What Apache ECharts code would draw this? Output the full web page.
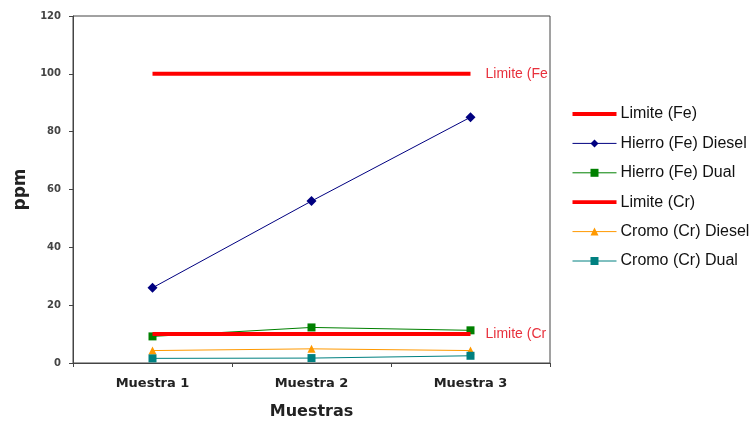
<!DOCTYPE html>
<html>
<head>
<meta charset="utf-8">
<style>
  html, body { margin: 0; padding: 0; background: #ffffff; }
  #chart { width: 753px; height: 425px; }
</style>
<script src="https://cdn.jsdelivr.net/npm/echarts@6/dist/echarts.min.js"></script>
</head>
<body>
<div id="chart"></div>
<script>
// Muestras analizadas
const categories = ['Muestra 1', 'Muestra 2', 'Muestra 3'];

// Concentraciones en ppm
const limiteFe = [100, 100, 100];
const hierroDiesel = [26, 56, 85];
const hierroDual = [9.2, 12.3, 11.3];
const limiteCr = [10, 10, 10];
const cromoDiesel = [4.3, 4.9, 4.3];
const cromoDual = [1.6, 1.7, 2.5];

// Marcas del eje vertical
const yTicks = [0, 20, 40, 60, 80, 100, 120];

const sans = 'Liberation Sans, Arial, sans-serif';
const axisFont = 'DejaVu Sans, Verdana, sans-serif';

function limitSeries(name, data) {
  return {
    name: name,
    type: 'line',
    data: data,
    symbol: 'none',
    lineStyle: { color: '#ff0000', width: 4 },
    itemStyle: { color: '#ff0000' },
    endLabel: {
      show: true,
      formatter: name,
      color: '#e8303c',
      fontFamily: sans,
      fontSize: 14,
      distance: 15,
      width: 66,
      overflow: 'truncate',
      ellipsis: ''
    },
    z: 3
  };
}

function dataSeries(name, data, color, symbol, size) {
  return {
    name: name,
    type: 'line',
    data: data,
    symbol: symbol,
    symbolSize: size,
    showAllSymbol: true,
    lineStyle: { color: color, width: 1 },
    itemStyle: { color: color },
    z: 2
  };
}

// Barra gruesa para las leyendas de los límites
const barIcon = 'path://M0,0H46V4H0Z';

const chart = echarts.init(document.getElementById('chart'), null, { renderer: 'canvas' });

chart.setOption({
  animation: false,
  backgroundColor: '#ffffff',
  textStyle: { fontFamily: sans },
  grid: {
    left: 73, top: 16, right: 203, bottom: 60,
    show: true, borderColor: '#444444', borderWidth: 1, backgroundColor: 'transparent'
  },
  legend: {
    orient: 'vertical',
    left: 567,
    top: 101,
    itemWidth: 44,
    itemHeight: 10,
    itemGap: 13.4,
    symbolKeepAspect: true,
    lineStyle: { width: 1 },
    textStyle: { fontFamily: sans, fontSize: 16, color: '#111111', padding: [0, 0, 0, -1] },
    data: [
      { name: 'Limite (Fe)', icon: barIcon },
      'Hierro (Fe) Diesel',
      'Hierro (Fe) Dual',
      { name: 'Limite (Cr)', icon: barIcon },
      'Cromo (Cr) Diesel',
      'Cromo (Cr) Dual'
    ]
  },
  xAxis: {
    type: 'category',
    data: categories,
    boundaryGap: true,
    name: 'Muestras',
    nameLocation: 'middle',
    nameGap: 41,
    nameTextStyle: { fontFamily: axisFont, fontSize: 16, fontWeight: 'bold', color: '#222222' },
    axisLine: { lineStyle: { color: '#444444', width: 1 } },
    axisTick: { show: true, length: 4, inside: false, lineStyle: { color: '#444444' } },
    axisLabel: { fontFamily: axisFont, fontSize: 13, fontWeight: 'bold', color: '#222222', margin: 14 },
    splitLine: { show: false }
  },
  yAxis: {
    type: 'value',
    min: yTicks[0],
    max: yTicks[yTicks.length - 1],
    interval: 20,
    name: 'ppm',
    nameLocation: 'middle',
    nameGap: 42,
    nameRotate: 90,
    nameTextStyle: { fontFamily: axisFont, fontSize: 17, fontWeight: 'bold', color: '#222222' },
    axisLine: { show: true, lineStyle: { color: '#444444', width: 1 } },
    axisTick: { show: true, length: 4, lineStyle: { color: '#444444' } },
    axisLabel: { fontFamily: axisFont, fontSize: 10, fontWeight: 'bold', color: '#444444', margin: 12 },
    splitLine: { show: false }
  },
  series: [
    limitSeries('Limite (Fe)', limiteFe),
    dataSeries('Hierro (Fe) Diesel', hierroDiesel, '#000080', 'diamond', 10),
    dataSeries('Hierro (Fe) Dual', hierroDual, '#008000', 'rect', 8),
    limitSeries('Limite (Cr)', limiteCr),
    dataSeries('Cromo (Cr) Diesel', cromoDiesel, '#ff9900', 'triangle', 8),
    dataSeries('Cromo (Cr) Dual', cromoDual, '#008080', 'rect', 8)
  ]
});
</script>
</body>
</html>
